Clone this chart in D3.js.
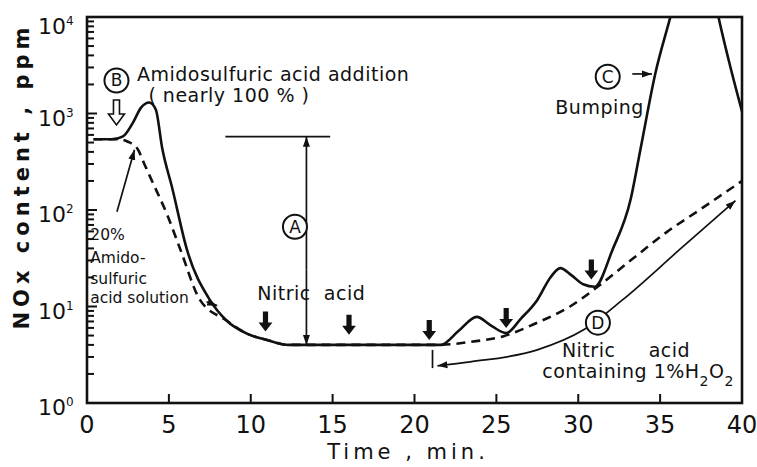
<!DOCTYPE html>
<html lang="en">
<head>
<meta charset="UTF-8">
<title>NOx content vs time</title>
<script src="https://d3js.org/d3.v7.min.js"></script>
<style>
  body { margin: 0; background: #fff; }
  svg { display: block; font-family: "DejaVu Sans", sans-serif; }
  .frame { fill: none; stroke: #111; stroke-width: 2.6px; }
  .tick { stroke: #111; stroke-width: 2px; }
  .curve { fill: none; stroke: #111; stroke-width: 2.6px; }
  .dashed { stroke-dasharray: 9,6; }
  .thin { fill: none; stroke: #111; stroke-width: 1.7px; }
  .note { font-size: 19px; fill: #111; letter-spacing: 0.5px; white-space: pre; }
  .small { font-size: 15.5px; fill: #111; }
</style>
</head>
<body>
<svg width="757" height="467"></svg>
<script>
// axis labels
const xTicks = [0, 5, 10, 15, 20, 25, 30, 35, 40];
const yExponents = [0, 1, 2, 3, 4];

// amidosulfuric acid added as nearly 100 % solid (solid line)
const solidTime = [0.4, 1.5, 2.2, 2.8, 3.3, 3.8, 4.2, 4.6, 5.2, 6.1, 7.5, 8.5, 9.8, 11, 12.3, 16, 21.6,
  22.7, 23.8, 24.7, 25.6, 26.5, 27.5, 28.3, 28.9, 29.6, 30.3, 31.0, 32.1, 33.2, 33.8, 34.7, 35.7,
  36.5, 37.3, 38.0, 38.5, 39.2, 40];
const solidPpm = [540, 540, 580, 800, 1150, 1300, 1100, 430, 170, 39, 11.7, 7.2, 5.2, 4.5, 4.0, 4.0, 4.0,
  5.6, 7.8, 6.3, 5.3, 7.5, 11.7, 20, 25, 21, 17, 16, 39, 129, 427, 2570, 11200,
  40000, 60000, 30000, 11200, 3500, 1050];

// 20 % amidosulfuric acid solution (dashed line)
const dashedTime = [0.4, 1.9, 2.5, 3.1, 3.5, 4.0, 4.9, 5.7, 6.9, 8.5, 9.8, 11, 12.3, 16, 21.5,
  23.4, 25.4, 27.5, 29.5, 31.3, 33.3, 35.4, 37.4, 40];
const dashedPpm = [540, 540, 510, 427, 300, 195, 89, 39, 11.7, 7.2, 5.2, 4.5, 4.0, 4.0, 4.0,
  4.3, 4.9, 6.8, 10, 16.6, 31, 59, 100, 200];

// nitric acid feed points (filled arrows): time, ppm at the tip
const feedTime = [10.9, 16.0, 20.9, 25.6, 30.8];
const feedTip = [5.5, 5.1, 4.5, 6.0, 19];

const width = 757, height = 467;
const margin = { left: 87, right: 15, top: 17, bottom: 64 };
const svg = d3.select("svg");

const x = d3.scaleLinear().domain([0, 40]).range([margin.left, width - margin.right]);
const y = d3.scaleLog().domain([1, 1e4]).range([height - margin.bottom, margin.top]);
const x0 = x.range()[0], x1 = x.range()[1], y0 = y.range()[0], y1 = y.range()[1];

const defs = svg.append("defs");
defs.append("clipPath").attr("id", "plot")
  .append("rect").attr("x", x0).attr("y", y1).attr("width", x1 - x0).attr("height", y0 - y1);
defs.append("marker").attr("id", "head")
  .attr("viewBox", "0 0 10 10").attr("refX", 10).attr("refY", 5)
  .attr("markerWidth", 10).attr("markerHeight", 10).attr("markerUnits", "userSpaceOnUse")
  .attr("orient", "auto-start-reverse")
  .append("path").attr("d", "M0,1.5 L10,5 L0,8.5 Z").attr("fill", "#111");

// ticks: x ticks point up into the plot, y ticks point right
const tickG = svg.append("g");
tickG.selectAll(".xt").data(xTicks.slice(1, -1)).join("line")
  .attr("class", "tick")
  .attr("x1", d => x(d)).attr("x2", d => x(d)).attr("y1", y0).attr("y2", y0 - 9);

const minor = [];
yExponents.slice(0, -1).forEach(e => { for (let k = 2; k <= 9; k++) minor.push(k * Math.pow(10, e)); });
tickG.selectAll(".ym").data(minor).join("line")
  .attr("class", "tick")
  .attr("x1", x0).attr("x2", x0 + 7).attr("y1", d => y(d)).attr("y2", d => y(d));
tickG.selectAll(".yM").data(yExponents.slice(1, -1)).join("line")
  .attr("class", "tick")
  .attr("x1", x0).attr("x2", x0 + 10).attr("y1", d => y(Math.pow(10, d))).attr("y2", d => y(Math.pow(10, d)));

svg.append("rect").attr("class", "frame")
  .attr("x", x0).attr("y", y1).attr("width", x1 - x0).attr("height", y0 - y1);

// tick labels
svg.selectAll(".xl").data(xTicks).join("text")
  .attr("x", d => x(d)).attr("y", y0 + 30)
  .attr("text-anchor", "middle").attr("font-size", 24).attr("fill", "#111")
  .text(d => d);

const yl = svg.selectAll(".yl").data(yExponents).join("text")
  .attr("x", 38).attr("y", d => Math.max(y(Math.pow(10, d)) + 12, 34))
  .attr("font-size", 22).attr("fill", "#111");
yl.append("tspan").text("10");
yl.append("tspan").attr("dy", -9).attr("font-size", 12).text(d => d);

// axis titles
svg.append("text")
  .attr("x", 408).attr("y", 459).attr("text-anchor", "middle")
  .attr("font-size", 21).attr("letter-spacing", 4).attr("fill", "#111")
  .text("Time , min.");
svg.append("text")
  .attr("transform", "translate(29,176) rotate(-90)").attr("text-anchor", "middle")
  .attr("font-size", 21).attr("font-weight", "bold").attr("letter-spacing", 5).attr("fill", "#111")
  .text("NOx content , ppm");

// curves
const line = d3.line().x(d => x(d[0])).y(d => y(d[1])).curve(d3.curveMonotoneX);
const plot = svg.append("g").attr("clip-path", "url(#plot)");
plot.append("path").attr("class", "curve")
  .attr("d", line(d3.zip(solidTime, solidPpm)));
plot.append("path").attr("class", "curve dashed")
  .attr("d", line(d3.zip(dashedTime, dashedPpm)));

// annotations (positions given in data units)
const P = (t, v) => [x(t), y(v)];
const note = svg.append("g");

function circled(t, v, letter) {
  const [cx, cy] = P(t, v);
  note.append("circle").attr("cx", cx).attr("cy", cy).attr("r", 12)
    .attr("fill", "#fff").attr("stroke", "#111").attr("stroke-width", 2);
  note.append("text").attr("x", cx).attr("y", cy + 6).attr("text-anchor", "middle")
    .attr("font-size", 17).attr("fill", "#111").text(letter);
}
function arrow(points, both, smooth) {
  const gen = d3.line();
  if (smooth) gen.curve(d3.curveMonotoneX);
  note.append("path").attr("class", "thin")
    .attr("d", gen(points.map(p => P(p[0], p[1]))))
    .attr("marker-end", "url(#head)")
    .attr("marker-start", both ? "url(#head)" : null);
}
function label(t, v, txt, cls) {
  const [tx, ty] = P(t, v);
  return note.append("text").attr("class", cls || "note").attr("x", tx).attr("y", ty).text(txt);
}

// B: amidosulfuric acid addition
circled(1.8, 2200, "B");
{
  const [bx, top] = P(1.8, 1380), bot = y(760);
  note.append("path")
    .attr("d", `M${bx - 3},${top} h6 v14 h5 L${bx},${bot} L${bx - 8},${top + 14} h5 Z`)
    .attr("fill", "#fff").attr("stroke", "#111").attr("stroke-width", 1.6);
}
label(3.05, 2150, "Amidosulfuric acid addition");
label(3.75, 1330, "( nearly 100 % )");

// 20 % solution notes
arrow([[1.83, 96], [2.9, 420]]);
label(0.2, 49, "20%", "small");
label(0.2, 28, "Amido-", "small");
label(0.2, 17.2, "sulfuric", "small");
label(0.2, 10.8, "acid solution", "small");
arrow([[7.3, 11.2], [7.95, 10.2]]);

// A: drop from the initial level to the nitric acid level
{
  const [ax0, ay] = P(8.45, 575), ax1 = x(14.85);
  note.append("line").attr("class", "thin").attr("x1", ax0).attr("x2", ax1).attr("y1", ay).attr("y2", ay);
}
arrow([[13.4, 24], [13.4, 575]]);
arrow([[13.4, 24], [13.4, 4.0]]);
circled(12.7, 67, "A");
label(10.4, 11.7, "Nitric  acid").attr("letter-spacing", 2);

// filled feed arrows
feedTime.forEach((t, i) => {
  const [fx, tip] = P(t, feedTip[i]);
  note.append("path")
    .attr("d", `M${fx - 2.6},${tip - 20} h5.2 v11 h4.3 L${fx},${tip} L${fx - 6.9},${tip - 9} h4.3 Z`)
    .attr("fill", "#111");
});

// C: bumping
circled(31.8, 2400, "C");
arrow([[33.3, 2570], [34.5, 2570]]);
label(28.6, 980, "Bumping").attr("letter-spacing", 0.8);

// D: nitric acid containing 1 % H2O2
arrow([[21.4, 2.43], [23.4, 2.67], [27.5, 3.55], [30.3, 5.7], [32.7, 11.7], [36.2, 39], [39.6, 125]], true, true);
{
  const [vx, vt] = P(21.1, 3.55), vb = y(2.3);
  note.append("line").attr("class", "thin").attr("x1", vx).attr("x2", vx).attr("y1", vt).attr("y2", vb);
}
circled(31.2, 6.8, "D");
label(29.0, 3.0, "Nitric").attr("letter-spacing", 2);
label(34.3, 3.0, "acid").attr("letter-spacing", 2);
{
  const t = label(27.8, 1.82, "containing 1%H");
  t.append("tspan").attr("baseline-shift", "sub").attr("font-size", 14).text("2");
  t.append("tspan").text("O");
  t.append("tspan").attr("baseline-shift", "sub").attr("font-size", 14).text("2");
}
</script>
</body>
</html>
